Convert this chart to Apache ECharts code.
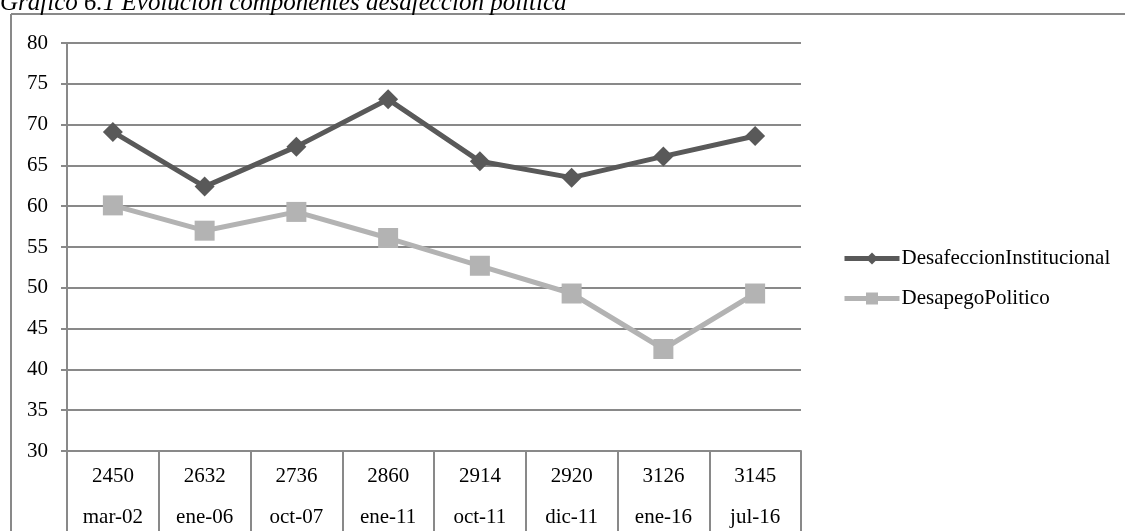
<!DOCTYPE html>
<html>
<head>
<meta charset="utf-8">
<script src="https://cdn.jsdelivr.net/npm/echarts@6/dist/echarts.min.js"></script>
<style>
  html, body { margin: 0; padding: 0; background: #fff; }
  #chart { width: 1125px; height: 531px; }
</style>
</head>
<body>
<div id="chart"></div>
<script>
// Survey waves: sample size (upper row) and fieldwork date (lower row)
const sampleSizes = ['2450', '2632', '2736', '2860', '2914', '2920', '3126', '3145'];
const waveDates = ['mar-02', 'ene-06', 'oct-07', 'ene-11', 'oct-11', 'dic-11', 'ene-16', 'jul-16'];

// Component scores per wave
const desafeccionInstitucional = [69.1, 62.4, 67.3, 73.1, 65.5, 63.5, 66.1, 68.6];
const desapegoPolitico = [60.1, 57.0, 59.3, 56.1, 52.7, 49.3, 42.5, 49.3];

// Value axis settings
const yMin = 30, yMax = 80, yStep = 5;

const SERIF = '"Liberation Serif", "Times New Roman", serif';
const GRID_GREY = '#898989';
const DARK = '#595959';
const LIGHT = '#b3b3b3';

const chart = echarts.init(document.getElementById('chart'), null, { renderer: 'canvas' });

chart.setOption({
  animation: false,
  backgroundColor: '#ffffff',
  title: {
    text: 'Gráfico 6.1 Evolución componentes desafección política',
    left: 0,
    top: -9,
    padding: 0,
    textStyle: {
      fontFamily: SERIF,
      fontStyle: 'italic',
      fontWeight: 'normal',
      fontSize: 25,
      color: '#000'
    }
  },
  graphic: [
    { type: 'line', shape: { x1: 11, y1: 14, x2: 1125, y2: 14 }, style: { stroke: GRID_GREY, lineWidth: 2 } },
    { type: 'line', shape: { x1: 11, y1: 14, x2: 11, y2: 531 }, style: { stroke: GRID_GREY, lineWidth: 2 } }
  ],
  legend: {
    orient: 'vertical',
    left: 842,
    top: 248,
    padding: 0,
    itemWidth: 55,
    itemHeight: 15,
    itemGap: 19,
    textStyle: { fontFamily: SERIF, fontSize: 21, color: '#000', padding: [0, 0, 0, -3] },
    data: [
      { name: 'DesafeccionInstitucional', lineStyle: { width: 5, color: DARK } },
      { name: 'DesapegoPolitico', lineStyle: { width: 5, color: LIGHT } }
    ]
  },
  grid: { left: 67, right: 324, top: 43, bottom: 80, containLabel: false },
  xAxis: {
    type: 'category',
    data: sampleSizes,
    boundaryGap: true,
    axisLine: { show: true, lineStyle: { color: GRID_GREY, width: 2 } },
    axisTick: { show: true, length: 90, interval: 0, lineStyle: { color: GRID_GREY, width: 2 } },
    axisLabel: {
      interval: 0,
      margin: 5,
      formatter: (v, i) => '{n|' + sampleSizes[i] + '}\n{d|' + waveDates[i] + '}',
      rich: {
        n: { fontFamily: SERIF, fontSize: 21, color: '#000', lineHeight: 41 },
        d: { fontFamily: SERIF, fontSize: 21, color: '#000', lineHeight: 41 }
      }
    },
    splitLine: { show: false }
  },
  yAxis: {
    type: 'value',
    min: yMin,
    max: yMax,
    interval: yStep,
    axisLine: { show: true, lineStyle: { color: GRID_GREY, width: 2 } },
    axisTick: { show: true, length: 6, lineStyle: { color: GRID_GREY, width: 2 } },
    axisLabel: { fontFamily: SERIF, fontSize: 21, color: '#000', margin: 19 },
    splitLine: { show: true, lineStyle: { color: GRID_GREY, width: 2 } }
  },
  series: [
    {
      name: 'DesafeccionInstitucional',
      type: 'line',
      data: desafeccionInstitucional,
      symbol: 'diamond',
      symbolSize: 20,
      showAllSymbol: true,
      lineStyle: { color: DARK, width: 5 },
      itemStyle: { color: DARK, borderWidth: 0 },
      z: 3
    },
    {
      name: 'DesapegoPolitico',
      type: 'line',
      data: desapegoPolitico,
      symbol: 'rect',
      symbolSize: 20,
      showAllSymbol: true,
      lineStyle: { color: LIGHT, width: 5 },
      itemStyle: { color: LIGHT, borderWidth: 0 },
      z: 2
    }
  ]
});
</script>
</body>
</html>
